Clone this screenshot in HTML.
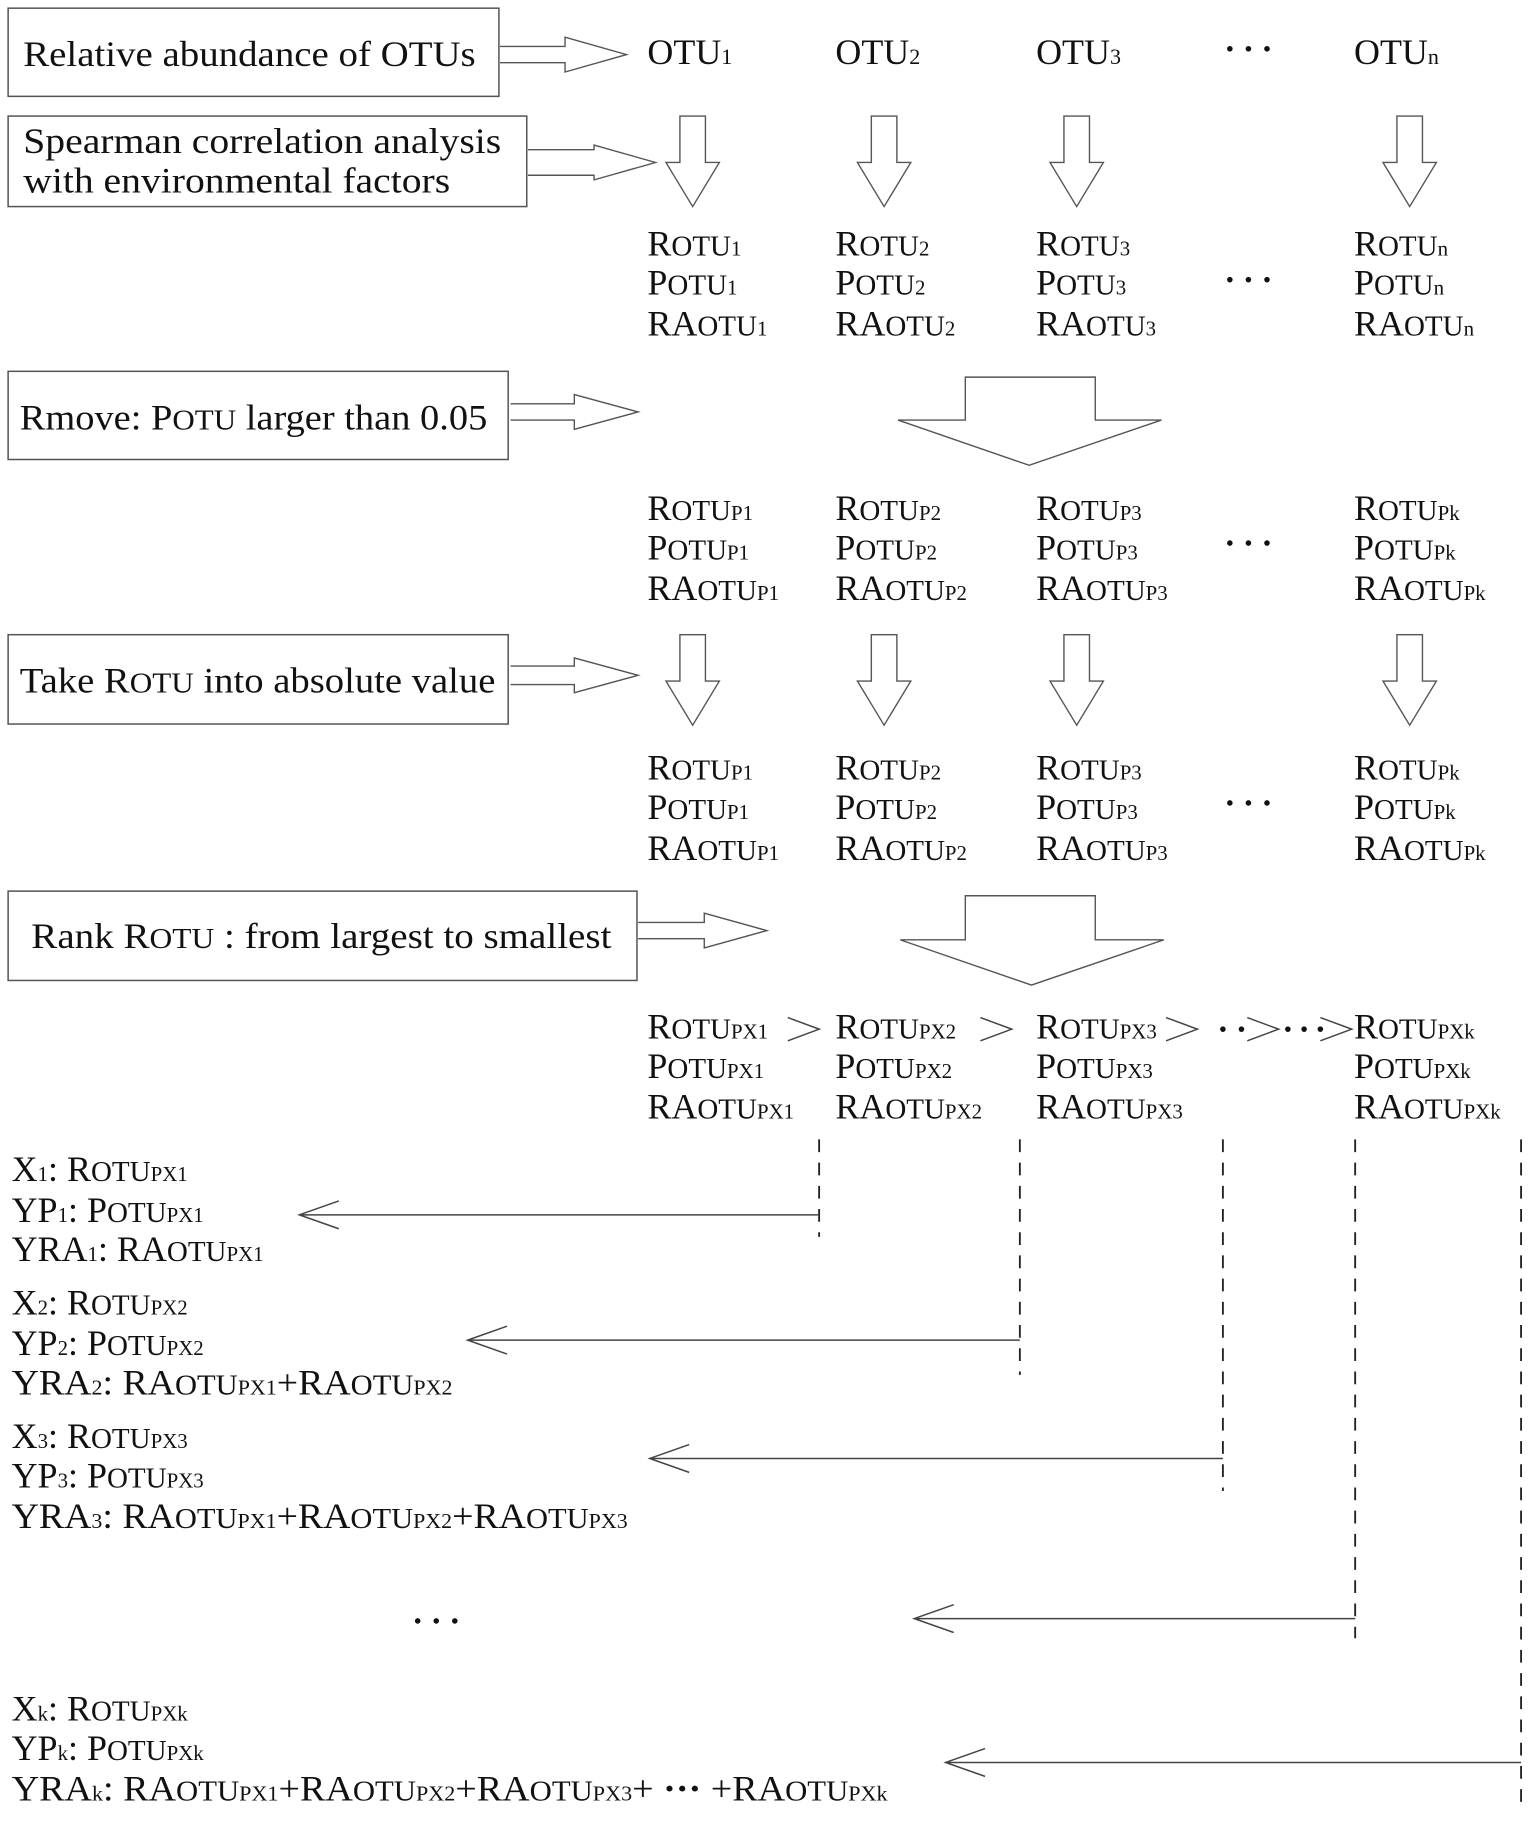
<!DOCTYPE html>
<html><head><meta charset="utf-8"><style>
html,body{margin:0;padding:0;background:#fff;}
svg{display:block}
text{font-family:"Liberation Serif",serif;fill:#111;font-size:31px}
.s{font-size:25px}.u{font-size:18px}.t{font-size:19px}
.box{fill:#fff;stroke:#555;stroke-width:1.3}
.ar{fill:#fff;stroke:#555;stroke-width:1.2}
.ln{stroke:#444;stroke-width:1.3;fill:none}
.ds{stroke:#222;stroke-width:1.6;stroke-dasharray:11 9;fill:none}
.dt{fill:#111}
</style></head><body>
<svg width="1535" height="1824" viewBox="0 0 1323 1572" xmlns="http://www.w3.org/2000/svg">
<defs>
<path id="da" d="M-11,0 H11 V40 H23 L0,78 L-23,40 H-11 Z"/>
<g id="dots"><circle cx="0" cy="0" r="2.4"/><circle cx="16" cy="0" r="2.4"/><circle cx="32" cy="0" r="2.4"/></g>
</defs>
<rect class="box" x="7" y="7" width="423" height="76"/>
<text x="20" y="57" textLength="390" lengthAdjust="spacingAndGlyphs">Relative abundance of OTUs</text>
<rect class="box" x="7" y="100" width="447" height="78"/>
<text x="20" y="132" textLength="412" lengthAdjust="spacingAndGlyphs">Spearman correlation analysis</text>
<text x="20" y="166" textLength="368" lengthAdjust="spacingAndGlyphs">with environmental factors</text>
<rect class="box" x="7" y="320" width="431" height="76"/>
<text x="17" y="370" textLength="403" lengthAdjust="spacingAndGlyphs">Rmove: P<tspan class="s">OTU</tspan> larger than 0.05</text>
<rect class="box" x="7" y="547" width="431" height="77"/>
<text x="17" y="597" textLength="410" lengthAdjust="spacingAndGlyphs">Take R<tspan class="s">OTU</tspan> into absolute value</text>
<rect class="box" x="7" y="768" width="542" height="77"/>
<text x="27" y="817" textLength="500" lengthAdjust="spacingAndGlyphs">Rank  R<tspan class="s">OTU</tspan> : from largest to smallest</text>

<path class="ar" d="M431,40 H487 V32 L540,47 L487,62 V54 H431"/>
<path class="ar" d="M455,129 H512 V125 L565,140 L512,155 V151 H455"/>
<path class="ar" d="M440,348 H495 V340 L550,355 L495,370 V362 H440"/>
<path class="ar" d="M440,574 H495 V567 L550,582 L495,597 V590 H440"/>
<path class="ar" d="M550,795 H607 V787 L661,802 L607,817 V809 H550"/>

<text x="558" y="55">OTU<tspan class="t">1</tspan></text>
<text x="720" y="55">OTU<tspan class="t">2</tspan></text>
<text x="893" y="55">OTU<tspan class="t">3</tspan></text>
<g class="dt">
<use href="#dots" x="1060" y="42"/>
<use href="#dots" x="1060" y="241"/>
<use href="#dots" x="1060" y="468"/>
<use href="#dots" x="1060" y="692"/>
<use href="#dots" x="360" y="1397"/>
<circle cx="1054" cy="887" r="2.4"/><circle cx="1070" cy="887" r="2.4"/>
<circle cx="1110" cy="887" r="2.4"/><circle cx="1124" cy="887" r="2.4"/><circle cx="1138" cy="887" r="2.4"/>
</g>
<text x="1167" y="55">OTU<tspan class="t">n</tspan></text>

<g class="ar">
<use href="#da" x="597" y="100"/><use href="#da" x="762" y="100"/><use href="#da" x="928" y="100"/><use href="#da" x="1215" y="100"/>
<use href="#da" x="597" y="547"/><use href="#da" x="762" y="547"/><use href="#da" x="928" y="547"/><use href="#da" x="1215" y="547"/>
</g>

<g>
<text x="558" y="220">R<tspan class="s">OTU</tspan><tspan class="u">1</tspan></text>
<text x="558" y="254">P<tspan class="s">OTU</tspan><tspan class="u">1</tspan></text>
<text x="558" y="289">RA<tspan class="s">OTU</tspan><tspan class="u">1</tspan></text>
<text x="720" y="220">R<tspan class="s">OTU</tspan><tspan class="u">2</tspan></text>
<text x="720" y="254">P<tspan class="s">OTU</tspan><tspan class="u">2</tspan></text>
<text x="720" y="289">RA<tspan class="s">OTU</tspan><tspan class="u">2</tspan></text>
<text x="893" y="220">R<tspan class="s">OTU</tspan><tspan class="u">3</tspan></text>
<text x="893" y="254">P<tspan class="s">OTU</tspan><tspan class="u">3</tspan></text>
<text x="893" y="289">RA<tspan class="s">OTU</tspan><tspan class="u">3</tspan></text>
<text x="1167" y="220">R<tspan class="s">OTU</tspan><tspan class="u">n</tspan></text>
<text x="1167" y="254">P<tspan class="s">OTU</tspan><tspan class="u">n</tspan></text>
<text x="1167" y="289">RA<tspan class="s">OTU</tspan><tspan class="u">n</tspan></text>
</g>

<path class="ar" d="M832,325 H944 V362 H1001 L887,401 L774,362 H832 Z"/>
<path class="ar" d="M832,772 H944 V810 H1003 L889,849 L776,810 H832 Z"/>

<g>
<text x="558" y="448">R<tspan class="s">OTU</tspan><tspan class="u">P1</tspan></text>
<text x="558" y="482">P<tspan class="s">OTU</tspan><tspan class="u">P1</tspan></text>
<text x="558" y="517">RA<tspan class="s">OTU</tspan><tspan class="u">P1</tspan></text>
<text x="720" y="448">R<tspan class="s">OTU</tspan><tspan class="u">P2</tspan></text>
<text x="720" y="482">P<tspan class="s">OTU</tspan><tspan class="u">P2</tspan></text>
<text x="720" y="517">RA<tspan class="s">OTU</tspan><tspan class="u">P2</tspan></text>
<text x="893" y="448">R<tspan class="s">OTU</tspan><tspan class="u">P3</tspan></text>
<text x="893" y="482">P<tspan class="s">OTU</tspan><tspan class="u">P3</tspan></text>
<text x="893" y="517">RA<tspan class="s">OTU</tspan><tspan class="u">P3</tspan></text>
<text x="1167" y="448">R<tspan class="s">OTU</tspan><tspan class="u">Pk</tspan></text>
<text x="1167" y="482">P<tspan class="s">OTU</tspan><tspan class="u">Pk</tspan></text>
<text x="1167" y="517">RA<tspan class="s">OTU</tspan><tspan class="u">Pk</tspan></text>

<text x="558" y="672">R<tspan class="s">OTU</tspan><tspan class="u">P1</tspan></text>
<text x="558" y="706">P<tspan class="s">OTU</tspan><tspan class="u">P1</tspan></text>
<text x="558" y="741">RA<tspan class="s">OTU</tspan><tspan class="u">P1</tspan></text>
<text x="720" y="672">R<tspan class="s">OTU</tspan><tspan class="u">P2</tspan></text>
<text x="720" y="706">P<tspan class="s">OTU</tspan><tspan class="u">P2</tspan></text>
<text x="720" y="741">RA<tspan class="s">OTU</tspan><tspan class="u">P2</tspan></text>
<text x="893" y="672">R<tspan class="s">OTU</tspan><tspan class="u">P3</tspan></text>
<text x="893" y="706">P<tspan class="s">OTU</tspan><tspan class="u">P3</tspan></text>
<text x="893" y="741">RA<tspan class="s">OTU</tspan><tspan class="u">P3</tspan></text>
<text x="1167" y="672">R<tspan class="s">OTU</tspan><tspan class="u">Pk</tspan></text>
<text x="1167" y="706">P<tspan class="s">OTU</tspan><tspan class="u">Pk</tspan></text>
<text x="1167" y="741">RA<tspan class="s">OTU</tspan><tspan class="u">Pk</tspan></text>
</g>

<g>
<text x="558" y="895">R<tspan class="s">OTU</tspan><tspan class="u">PX1</tspan></text>
<text x="558" y="929">P<tspan class="s">OTU</tspan><tspan class="u">PX1</tspan></text>
<text x="558" y="964">RA<tspan class="s">OTU</tspan><tspan class="u">PX1</tspan></text>
<text x="720" y="895">R<tspan class="s">OTU</tspan><tspan class="u">PX2</tspan></text>
<text x="720" y="929">P<tspan class="s">OTU</tspan><tspan class="u">PX2</tspan></text>
<text x="720" y="964">RA<tspan class="s">OTU</tspan><tspan class="u">PX2</tspan></text>
<text x="893" y="895">R<tspan class="s">OTU</tspan><tspan class="u">PX3</tspan></text>
<text x="893" y="929">P<tspan class="s">OTU</tspan><tspan class="u">PX3</tspan></text>
<text x="893" y="964">RA<tspan class="s">OTU</tspan><tspan class="u">PX3</tspan></text>
<text x="1167" y="895">R<tspan class="s">OTU</tspan><tspan class="u">PXk</tspan></text>
<text x="1167" y="929">P<tspan class="s">OTU</tspan><tspan class="u">PXk</tspan></text>
<text x="1167" y="964">RA<tspan class="s">OTU</tspan><tspan class="u">PXk</tspan></text>
</g>
<g class="ln">
<path d="M679,877 L706,887 L679,897"/>
<path d="M845,877 L872,887 L845,897"/>
<path d="M1005,877 L1032,887 L1005,897"/>
<path d="M1075,877 L1102,887 L1075,897"/>
<path d="M1138,877 L1165,887 L1138,897"/>
</g>

<path class="ds" d="M706,982 V1066"/>
<path class="ds" d="M879,982 V1185"/>
<path class="ds" d="M1054,982 V1285"/>
<path class="ds" d="M1168,982 V1412"/>
<path class="ds" d="M1311,982 V1562"/>

<g class="ln">
<path d="M706,1047 H258 M292,1035 L258,1047 L292,1059"/>
<path d="M879,1155 H403 M437,1143 L403,1155 L437,1167"/>
<path d="M1054,1257 H560 M594,1245 L560,1257 L594,1269"/>
<path d="M1168,1395 H788 M822,1383 L788,1395 L822,1407"/>
<path d="M1311,1519 H815 M849,1507 L815,1519 L849,1531"/>
</g>

<text x="10" y="1018">X<tspan class="u">1</tspan>: R<tspan class="s">OTU</tspan><tspan class="u">PX1</tspan></text>
<text x="10" y="1053">YP<tspan class="u">1</tspan>: P<tspan class="s">OTU</tspan><tspan class="u">PX1</tspan></text>
<text x="10" y="1087">YRA<tspan class="u">1</tspan>: RA<tspan class="s">OTU</tspan><tspan class="u">PX1</tspan></text>

<text x="10" y="1133">X<tspan class="u">2</tspan>: R<tspan class="s">OTU</tspan><tspan class="u">PX2</tspan></text>
<text x="10" y="1168">YP<tspan class="u">2</tspan>: P<tspan class="s">OTU</tspan><tspan class="u">PX2</tspan></text>
<text x="10" y="1202" textLength="380" lengthAdjust="spacingAndGlyphs">YRA<tspan class="u">2</tspan>: RA<tspan class="s">OTU</tspan><tspan class="u">PX1</tspan>+RA<tspan class="s">OTU</tspan><tspan class="u">PX2</tspan></text>

<text x="10" y="1248">X<tspan class="u">3</tspan>: R<tspan class="s">OTU</tspan><tspan class="u">PX3</tspan></text>
<text x="10" y="1282">YP<tspan class="u">3</tspan>: P<tspan class="s">OTU</tspan><tspan class="u">PX3</tspan></text>
<text x="10" y="1317" textLength="531" lengthAdjust="spacingAndGlyphs">YRA<tspan class="u">3</tspan>: RA<tspan class="s">OTU</tspan><tspan class="u">PX1</tspan>+RA<tspan class="s">OTU</tspan><tspan class="u">PX2</tspan>+RA<tspan class="s">OTU</tspan><tspan class="u">PX3</tspan></text>

<text x="10" y="1483">X<tspan class="u">k</tspan>: R<tspan class="s">OTU</tspan><tspan class="u">PXk</tspan></text>
<text x="10" y="1517">YP<tspan class="u">k</tspan>: P<tspan class="s">OTU</tspan><tspan class="u">PXk</tspan></text>
<text x="10" y="1552" textLength="755" lengthAdjust="spacingAndGlyphs">YRA<tspan class="u">k</tspan>: RA<tspan class="s">OTU</tspan><tspan class="u">PX1</tspan>+RA<tspan class="s">OTU</tspan><tspan class="u">PX2</tspan>+RA<tspan class="s">OTU</tspan><tspan class="u">PX3</tspan>+ <tspan font-weight="bold">···</tspan> +RA<tspan class="s">OTU</tspan><tspan class="u">PXk</tspan></text>
</svg>
</body></html>
